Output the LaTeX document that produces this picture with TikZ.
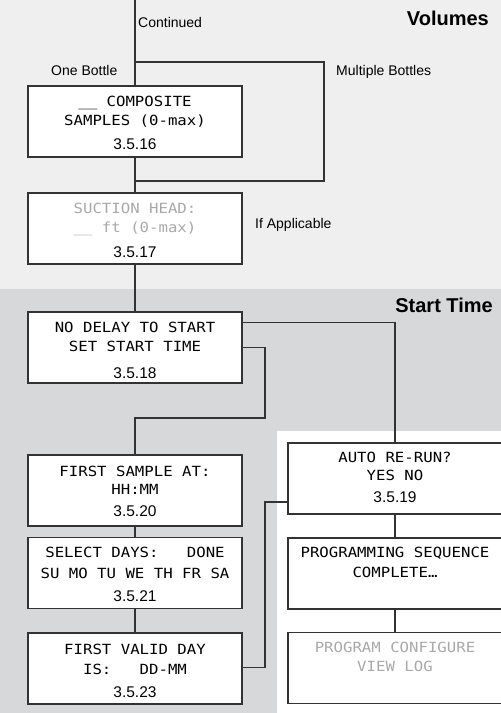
\documentclass[tikz,border=0pt]{standalone}
\usepackage{fontspec}
\setmainfont{Liberation Sans}
\newfontfamily\lcdfont{DejaVu Sans Mono}[FakeStretch=1.12]
\usetikzlibrary{positioning,calc}

\definecolor{volbg}{HTML}{EFEFEF}
\definecolor{startbg}{HTML}{D7D8DA}
\definecolor{dimtext}{HTML}{A9A9A9}
\definecolor{linegray}{HTML}{333333}

\tikzset{
	screen/.style={draw=linegray,line width=1.1pt,fill=white,minimum width=214pt,minimum height=71pt,inner sep=0pt},
	lcd/.style={font=\lcdfont\fontsize{14}{16}\selectfont,anchor=base,inner sep=0pt},
	dimlcd/.style={lcd,text=dimtext},
	stepno/.style={font=\fontsize{15.5}{18}\selectfont,anchor=base,inner sep=0pt},
	note/.style={font=\fontsize{14}{16}\selectfont,anchor=base west,inner sep=0pt},
	section/.style={font=\bfseries\fontsize{20}{24}\selectfont,anchor=base east,inner sep=0pt},
	wire/.style={draw=linegray,line width=1.1pt}
}

\begin{document}
\begin{tikzpicture}[x=1pt,y=-1pt]
		\useasboundingbox (0,0) rectangle (501,713);
		\clip (0,0) rectangle (501,713);
		
		% backgrounds
		\fill[volbg] (0,0) rectangle (501,289);
		\fill[startbg] (0,289) rectangle (501,713);
		\fill[white] (277,431) rectangle (501,713);
		\node[section] (volumes) at (489,25) {Volumes};
		\node[section] (starttime) at (493,312) {Start Time};
		
		% volumes
		\node[screen] (s16) at (135,121.5) {};
		\node[lcd] (s16-a) at ([yshift=-21pt]s16.north) {\_\_ COMPOSITE};
		\node[lcd] (s16-b) at ([yshift=-40pt]s16.north) {SAMPLES (0-max)};
		\node[stepno] (s16-n) at ([yshift=-64pt]s16.north) {3.5.16};
		
		\node[screen] (s17) at (135,228.5) {};
		\node[dimlcd] (s17-a) at ([yshift=-21pt]s17.north) {SUCTION HEAD:};
		\node[dimlcd] (s17-b) at ([yshift=-40pt]s17.north) {\_\_ ft (0-max)};
		\node[stepno] (s17-n) at ([yshift=-65pt]s17.north) {3.5.17};
		
		\node[note] (continued) at (138,27) {Continued};
		\node[note] (onebottle) at (51,75) {One Bottle};
		\node[note] (multiple) at (336,75) {Multiple Bottles};
		\node[note] (ifapp) at (255,228) {If Applicable};
		
		% start time
		\node[screen] (s18) at (135,347.5) {};
		\node[lcd] (s18-a) at ([yshift=-21pt]s18.north) {NO DELAY TO START};
		\node[lcd] (s18-b) at ([yshift=-40pt]s18.north) {SET START TIME};
		\node[stepno] (s18-n) at ([yshift=-67pt]s18.north) {3.5.18};
		
		\node[screen] (s20) at (135,490.5) {};
		\node[lcd] (s20-a) at ([yshift=-22pt]s20.north) {FIRST SAMPLE AT:};
		\node[lcd] (s20-b) at ([yshift=-40pt]s20.north) {HH:MM};
		\node[stepno] (s20-n) at ([yshift=-62pt]s20.north) {3.5.20};
		
		\node[screen] (s21) at (135,573) {};
		\node[lcd] (s21-a) at ([yshift=-21pt]s21.north) {SELECT DAYS:~~~DONE};
		\node[lcd] (s21-b) at ([yshift=-42pt]s21.north) {SU MO TU WE TH FR SA};
		\node[stepno] (s21-n) at ([yshift=-65pt]s21.north) {3.5.21};
		
		\node[screen] (s23) at (135,668.5) {};
		\node[lcd] (s23-a) at ([yshift=-22pt]s23.north) {FIRST VALID DAY};
		\node[lcd] (s23-b) at ([yshift=-42pt]s23.north) {IS:~~~DD-MM};
		\node[stepno] (s23-n) at ([yshift=-65pt]s23.north) {3.5.23};
		
		\node[screen] (s19) at (395,478.5) {};
		\node[lcd] (s19-a) at ([yshift=-20pt]s19.north) {AUTO RE-RUN?};
		\node[lcd] (s19-b) at ([yshift=-38pt]s19.north) {YES NO};
		\node[stepno] (s19-n) at ([yshift=-60pt]s19.north) {3.5.19};
		
		\node[screen] (done) at (395,573.5) {};
		\node[lcd] (done-a) at ([yshift=-20pt]done.north) {PROGRAMMING SEQUENCE};
		\node[lcd] (done-b) at ([yshift=-40pt]done.north) {COMPLETE…};
		
		\node[screen] (menu) at (395,668) {};
		\node[dimlcd] (menu-a) at ([yshift=-21pt]menu.north) {PROGRAM CONFIGURE};
		\node[dimlcd] (menu-b) at ([yshift=-40pt]menu.north) {VIEW LOG};
		
		% connectors
		\coordinate (entry) at (135,0);
		\coordinate (split) at (135,62);
		\coordinate (merge) at (135,181);
		\coordinate (delay) at (265,418);
		\coordinate (rerun) at (265,502);
		
		\draw[wire] (entry) -- (s16.north);
		\draw[wire] (split) -- ++(189,0) |- (merge);
		\draw[wire] (s16) -- (s17);
		\draw[wire] (s17) -- (s18);
		\draw[wire] ([yshift=-11pt]s18.north east) -| (s19.north);
		\draw[wire] ([yshift=-36pt]s18.north east) -| (delay) -| (s20.north);
		\draw[wire] (s20) -- (s21);
		\draw[wire] (s21) -- (s23);
		\draw[wire] ([yshift=-35pt]s23.north east) -| (rerun) -- (rerun -| s19.west);
		\draw[wire] (s19) -- (done);
		\draw[wire] (done) -- (menu);
\end{tikzpicture}
\end{document}
